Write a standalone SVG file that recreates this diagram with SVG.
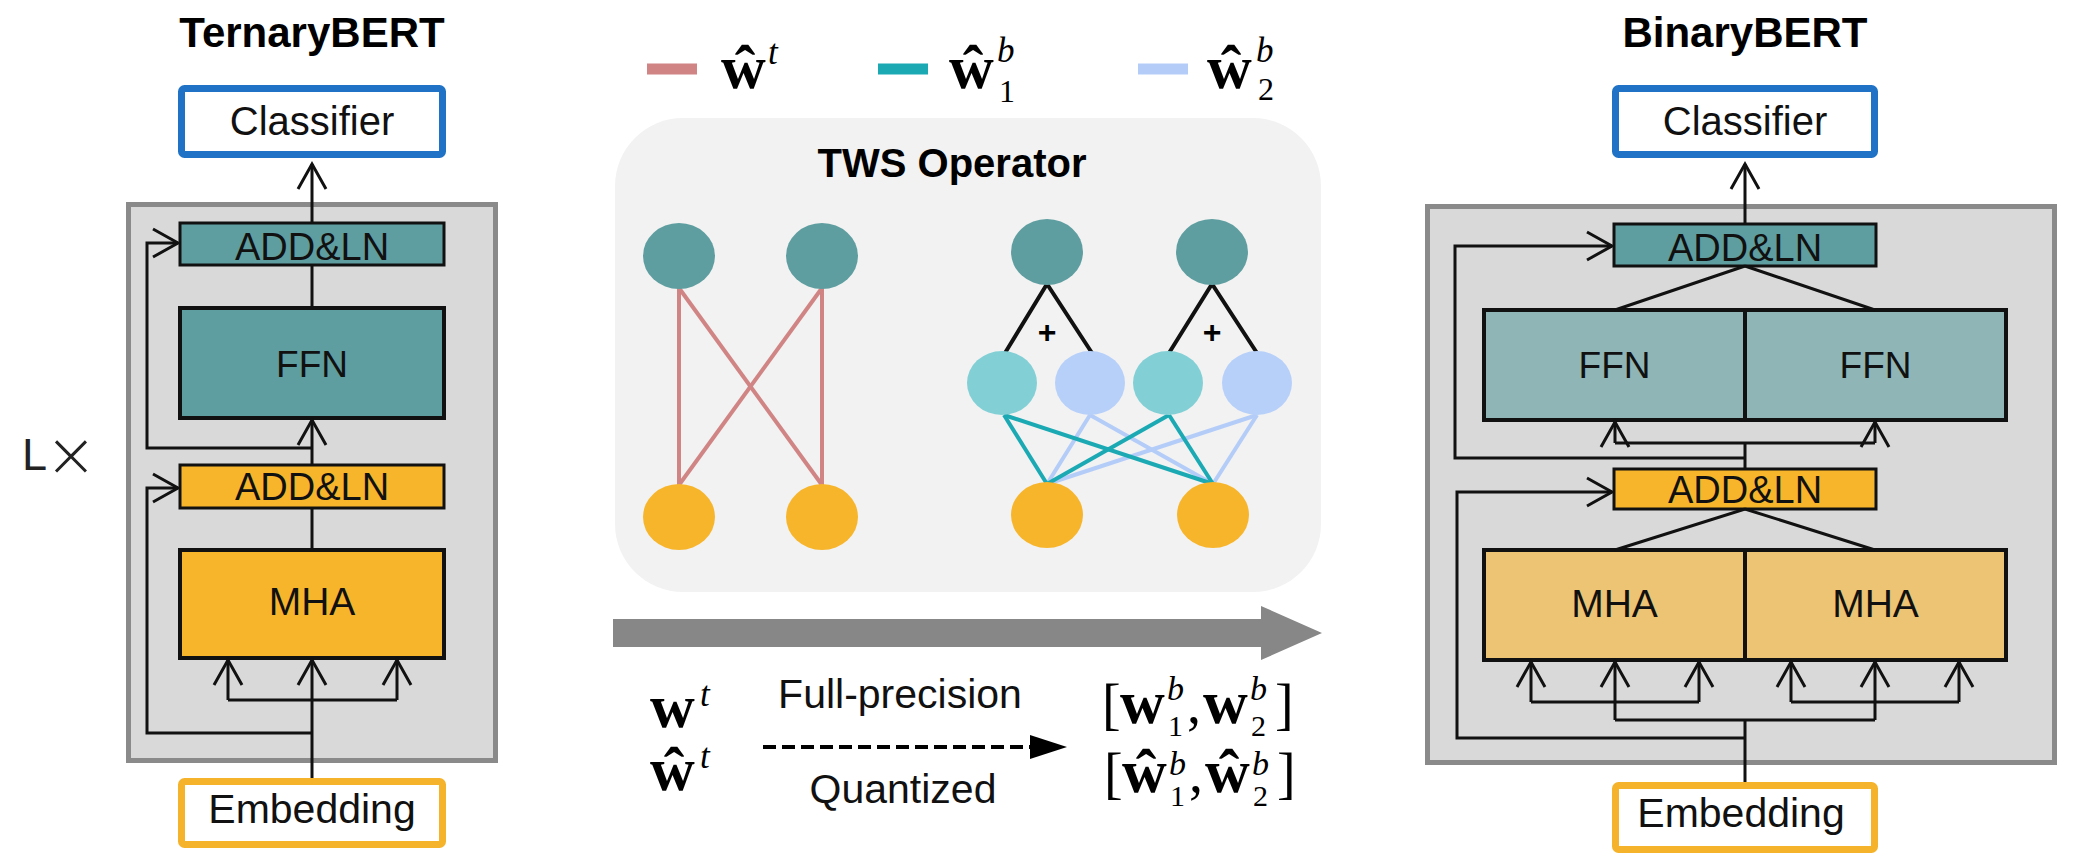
<svg xmlns="http://www.w3.org/2000/svg" width="2074" height="866" viewBox="0 0 2074 866">
<defs>
<marker id="ah" viewBox="-30 -17 34 34" refX="0" refY="0" markerWidth="34" markerHeight="34" markerUnits="userSpaceOnUse" orient="auto">
<path d="M-25,-14 L0,0 L-25,14" fill="none" stroke="#111" stroke-width="3"/>
</marker>
<style>
.lbl{font-family:"Liberation Sans",Arial,sans-serif;fill:#111;text-anchor:middle}
.title{font-family:"Liberation Sans",Arial,sans-serif;font-weight:bold;font-size:42px;fill:#000;text-anchor:middle}
.mrow{font-family:"Liberation Serif","Times New Roman",serif;fill:#000;font-size:56px}
.b{font-weight:bold;font-size:62px}
.it{font-style:italic;font-size:35px}
.num{font-size:32px}
.sp{font-style:italic;font-size:34px}
.sb{font-size:30px}
.blk{fill:#d9d9d9;stroke:#8a8a8a;stroke-width:5}
.teal{fill:#5f9ea0;stroke:#111;stroke-width:3}
.tealL{fill:#8fb5b6;stroke:#111;stroke-width:4}
.org{fill:#f7b52c;stroke:#111;stroke-width:3}
.orgL{fill:#edc473;stroke:#111;stroke-width:4}
.cls{fill:#fff;stroke:#1f72c6;stroke-width:7}
.emb{fill:#fff;stroke:#f5b32c;stroke-width:7}
.c{fill:none;stroke:#111;stroke-width:3}
.pk{stroke:#d08484;stroke-width:4}
.tl{stroke:#1ba9b4;stroke-width:4}
.lb{stroke:#b4cdf8;stroke-width:4}
</style>
</defs>
<rect width="2074" height="866" fill="#fff"/>

<g id="ternary">
<text class="title" x="312" y="47">TernaryBERT</text>
<rect class="blk" x="128.5" y="204.5" width="367" height="556"/>
<g id="t-classifier"><rect class="cls" x="181.5" y="88.5" width="261" height="66" rx="3"/><text class="lbl" x="312" y="135" font-size="40">Classifier</text></g>
<g id="t-addln2"><rect class="teal" x="180" y="223" width="264" height="42"/><text class="lbl" x="312" y="260" font-size="38">ADD&amp;LN</text></g>
<g id="t-ffn"><rect class="teal" style="stroke-width:4" x="180" y="308" width="264" height="110"/><text class="lbl" x="312" y="377" font-size="37">FFN</text></g>
<g id="t-addln1"><rect class="org" x="180" y="465" width="264" height="43"/><text class="lbl" x="312" y="500" font-size="38">ADD&amp;LN</text></g>
<g id="t-mha"><rect class="org" style="stroke-width:4" x="180" y="550" width="264" height="108"/><text class="lbl" x="312" y="615" font-size="39">MHA</text></g>
<g id="t-emb"><rect class="emb" x="181.5" y="781.5" width="261" height="63" rx="3"/><text class="lbl" x="312" y="823" font-size="41">Embedding</text></g>
<text id="lx" x="22" y="470" font-family="'Liberation Sans',Arial,sans-serif" font-size="45" fill="#222">L<tspan x="71" y="476" font-family="'DejaVu Sans',sans-serif" font-weight="200" font-size="62" text-anchor="middle">×</tspan></text>
</g>

<g id="binary">
<text class="title" x="1745" y="47">BinaryBERT</text>
<rect class="blk" x="1427.5" y="206.5" width="627" height="556"/>
<g id="b-classifier"><rect class="cls" x="1615.5" y="88.5" width="259" height="66" rx="3"/><text class="lbl" x="1745" y="135" font-size="40">Classifier</text></g>
<g id="b-addln2"><rect class="teal" x="1614" y="224" width="262" height="42"/><text class="lbl" x="1745" y="261" font-size="38">ADD&amp;LN</text></g>
<g id="b-ffn"><rect class="tealL" x="1484" y="310" width="522" height="110"/><line x1="1745" y1="310" x2="1745" y2="420" stroke="#111" stroke-width="4"/><text class="lbl" x="1614.5" y="378" font-size="37">FFN</text><text class="lbl" x="1875.5" y="378" font-size="37">FFN</text></g>
<g id="b-addln1"><rect class="org" x="1614" y="469" width="262" height="40"/><text class="lbl" x="1745" y="503" font-size="38">ADD&amp;LN</text></g>
<g id="b-mha"><rect class="orgL" x="1484" y="550" width="522" height="110"/><line x1="1745" y1="550" x2="1745" y2="660" stroke="#111" stroke-width="4"/><text class="lbl" x="1614.5" y="617" font-size="39">MHA</text><text class="lbl" x="1875.5" y="617" font-size="39">MHA</text></g>
<g id="b-emb"><rect class="emb" x="1615.5" y="785.5" width="259" height="64" rx="3"/><text class="lbl" x="1741" y="827" font-size="41">Embedding</text></g>
</g>

<g id="connectors">
<path class="c" d="M312,223 V164" marker-end="url(#ah)"/>
<path class="c" d="M312,308 V265"/>
<path class="c" d="M312,465 V420" marker-end="url(#ah)"/>
<path class="c" d="M312,550 V508"/>
<path class="c" d="M312,778 V660" marker-end="url(#ah)"/>
<path class="c" d="M228,700 H397"/>
<path class="c" d="M228,700 V660" marker-end="url(#ah)"/>
<path class="c" d="M397,700 V660" marker-end="url(#ah)"/>
<path class="c" d="M312,448 H147 V243 H178" marker-end="url(#ah)"/>
<path class="c" d="M312,733 H147 V488 H178" marker-end="url(#ah)"/>

<path class="c" d="M1745,224 V164" marker-end="url(#ah)"/>
<path class="c" d="M1745,266 L1615,310 M1745,266 L1875,310"/>
<path class="c" d="M1615,443 H1875 M1745,469 V443"/>
<path class="c" d="M1615,443 V422" marker-end="url(#ah)"/>
<path class="c" d="M1875,443 V422" marker-end="url(#ah)"/>
<path class="c" d="M1745,458 H1455 V246 H1612" marker-end="url(#ah)"/>
<path class="c" d="M1745,509 L1615,550 M1745,509 L1875,550"/>
<path class="c" d="M1531,702 H1699 M1791,702 H1959 M1615,720 H1875 M1745,782 V720"/>
<path class="c" d="M1531,702 V662" marker-end="url(#ah)"/>
<path class="c" d="M1615,720 V662" marker-end="url(#ah)"/>
<path class="c" d="M1699,702 V662" marker-end="url(#ah)"/>
<path class="c" d="M1791,702 V662" marker-end="url(#ah)"/>
<path class="c" d="M1875,720 V662" marker-end="url(#ah)"/>
<path class="c" d="M1959,702 V662" marker-end="url(#ah)"/>
<path class="c" d="M1745,738 H1457 V492 H1612" marker-end="url(#ah)"/>
</g>

<g id="legend">
<line class="pk" x1="647" y1="69" x2="697" y2="69" style="stroke-width:11"/>
<text class="mrow" y="88"><tspan class="b" x="721">ŵ</tspan><tspan class="it" x="768" y="64">t</tspan></text>
<line class="tl" x1="878" y1="69" x2="928" y2="69" style="stroke-width:11"/>
<text class="mrow" y="88"><tspan class="b" x="949">ŵ</tspan><tspan class="it" x="997" y="62">b</tspan><tspan class="num" x="999" y="102">1</tspan></text>
<line class="lb" x1="1138" y1="69" x2="1188" y2="69" style="stroke-width:11"/>
<text class="mrow" y="88"><tspan class="b" x="1207">ŵ</tspan><tspan class="it" x="1256" y="62">b</tspan><tspan class="num" x="1258" y="100">2</tspan></text>
</g>

<g id="tws">
<rect x="615" y="118" width="706" height="474" rx="68" fill="#f2f2f2"/>
<text x="952" y="177" font-family="'Liberation Sans',Arial,sans-serif" font-weight="bold" font-size="40" text-anchor="middle" fill="#000">TWS Operator</text>
<g id="tws-left">
<line class="pk" x1="679" y1="288" x2="679" y2="485"/>
<line class="pk" x1="822" y1="288" x2="822" y2="485"/>
<line class="pk" x1="679" y1="288" x2="822" y2="485"/>
<line class="pk" x1="822" y1="288" x2="679" y2="485"/>
<ellipse cx="679" cy="256" rx="36" ry="33" fill="#5f9ea0"/>
<ellipse cx="822" cy="256" rx="36" ry="33" fill="#5f9ea0"/>
<ellipse cx="679" cy="517" rx="36" ry="33" fill="#f7b52c"/>
<ellipse cx="822" cy="517" rx="36" ry="33" fill="#f7b52c"/>
</g>
<g id="tws-right">
<line class="lb" x1="1090" y1="415" x2="1047" y2="484"/>
<line class="lb" x1="1090" y1="415" x2="1213" y2="484"/>
<line class="lb" x1="1257" y1="415" x2="1047" y2="484"/>
<line class="lb" x1="1257" y1="415" x2="1213" y2="484"/>
<line class="tl" x1="1004" y1="415" x2="1047" y2="484"/>
<line class="tl" x1="1004" y1="415" x2="1213" y2="484"/>
<line class="tl" x1="1169" y1="415" x2="1047" y2="484"/>
<line class="tl" x1="1169" y1="415" x2="1213" y2="484"/>
<path d="M1005,353 L1047,284 L1092,353 M1169,353 L1212,284 L1257,353" fill="none" stroke="#111" stroke-width="4"/>
<text x="1047" y="343" font-family="'Liberation Sans',Arial,sans-serif" font-weight="bold" font-size="32" text-anchor="middle">+</text>
<text x="1212" y="343" font-family="'Liberation Sans',Arial,sans-serif" font-weight="bold" font-size="32" text-anchor="middle">+</text>
<ellipse cx="1047" cy="252" rx="36" ry="33" fill="#5f9ea0"/>
<ellipse cx="1212" cy="252" rx="36" ry="33" fill="#5f9ea0"/>
<ellipse cx="1002" cy="383" rx="35" ry="32" fill="#82d0d6"/>
<ellipse cx="1090" cy="383" rx="35" ry="32" fill="#b7d0fa"/>
<ellipse cx="1168" cy="383" rx="35" ry="32" fill="#82d0d6"/>
<ellipse cx="1257" cy="383" rx="35" ry="32" fill="#b7d0fa"/>
<ellipse cx="1047" cy="515" rx="36" ry="33" fill="#f7b52c"/>
<ellipse cx="1213" cy="515" rx="36" ry="33" fill="#f7b52c"/>
</g>
</g>

<g id="transform-arrow">
<polygon points="613,619 1261,619 1261,606 1322,633 1261,660 1261,647 613,647" fill="#878787"/>
</g>

<g id="notation">
<text class="mrow" y="727"><tspan class="b" x="650">w</tspan><tspan class="it" x="700" y="706">t</tspan></text>
<text class="mrow" y="790"><tspan class="b" x="650">ŵ</tspan><tspan class="it" x="700" y="768">t</tspan></text>
<text class="lbl" x="900" y="708" font-size="41">Full-precision</text>
<text class="lbl" x="903" y="803" font-size="41">Quantized</text>
<line x1="763" y1="747" x2="1032" y2="747" stroke="#000" stroke-width="4" stroke-dasharray="13 6"/>
<polygon points="1030,735 1067,747 1030,759" fill="#000"/>
<text class="mrow" y="723"><tspan x="1102">[</tspan><tspan class="b" x="1120">w</tspan><tspan class="sp" x="1167" y="700">b</tspan><tspan class="sb" x="1168" y="736">1</tspan><tspan x="1187" y="723">,</tspan><tspan class="b" x="1203">w</tspan><tspan class="sp" x="1250" y="700">b</tspan><tspan class="sb" x="1251" y="736">2</tspan><tspan x="1275" y="723">]</tspan></text>
<text class="mrow" y="792"><tspan x="1104">[</tspan><tspan class="b" x="1122">ŵ</tspan><tspan class="sp" x="1169" y="775">b</tspan><tspan class="sb" x="1170" y="806">1</tspan><tspan x="1189" y="792">,</tspan><tspan class="b" x="1205">ŵ</tspan><tspan class="sp" x="1252" y="775">b</tspan><tspan class="sb" x="1253" y="806">2</tspan><tspan x="1277" y="792">]</tspan></text>
</g>
</svg>
